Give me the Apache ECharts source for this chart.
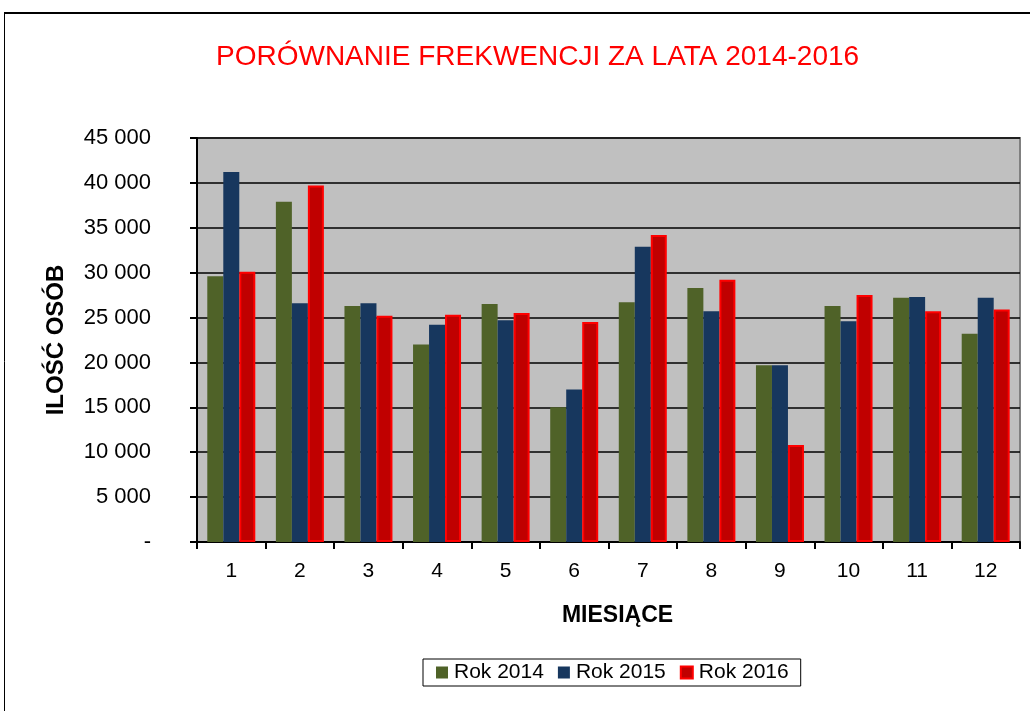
<!DOCTYPE html>
<html><head><meta charset="utf-8">
<script src="https://cdn.jsdelivr.net/npm/echarts@6/dist/echarts.min.js"></script>
<style>html,body{margin:0;padding:0;background:#fff}#c{width:1030px;height:711px}</style>
</head><body><div id="c"></div>
<script>
const months = ['1','2','3','4','5','6','7','8','9','10','11','12'];
const rok2014 = [29600, 37900, 26300, 22000, 26500, 15000, 26700, 28300, 19700, 26300, 27200, 23200];
const rok2015 = [41200, 26600, 26600, 24200, 24700, 17000, 32900, 25700, 19700, 24600, 27300, 27200];
const rok2016 = [30100, 39700, 25200, 25300, 25500, 24500, 34200, 29200, 10800, 27500, 25700, 25900];
const seriesNames = ['Rok 2014', 'Rok 2015', 'Rok 2016'];

function fmt(v){ if(v===0) return '-'; return String(v).replace(/\B(?=(\d{3})+(?!\d))/g,' '); }

const chart = echarts.init(document.getElementById('c'));
const F = 'Arial, "Liberation Sans", sans-serif';
chart.setOption({
  animation:false,
  backgroundColor:'#fff',
  textStyle:{fontFamily:F},
  title:{text:'PORÓWNANIE FREKWENCJI ZA LATA 2014-2016', left:216, top:43, padding:0,
    textStyle:{color:'#FF0000', fontSize:28, fontWeight:'normal', fontFamily:F}},
  graphic:[
    {type:'line', shape:{x1:4,y1:13,x2:1030,y2:13}, style:{stroke:'#000',lineWidth:2}},
    {type:'line', shape:{x1:4.5,y1:12,x2:4.5,y2:711}, style:{stroke:'#000',lineWidth:1}}
  ],
  legend:{data:seriesNames, left:423, top:659, itemWidth:12, itemHeight:12, icon:'rect',
    itemGap:14, padding:[3,12,3,13], borderColor:'#000', borderWidth:1, backgroundColor:'#fff',
    textStyle:{fontSize:21, color:'#000', fontFamily:F, padding:[0,0,0,1]}},
  grid:{left:197, top:138, right:10, bottom:169, show:true, backgroundColor:'#C0C0C0', borderColor:'#808080', borderWidth:2},
  xAxis:{type:'category', data:months, name:'MIESIĄCE', nameLocation:'middle', nameGap:62,
    nameTextStyle:{fontSize:23, fontWeight:'bold', color:'#000', padding:[0,0,0,18]},
    axisLine:{lineStyle:{color:'#000',width:2}},
    axisTick:{show:true, length:7, lineStyle:{color:'#000',width:2}},
    axisLabel:{fontSize:21, color:'#000', margin:19}},
  yAxis:{type:'value', min:0, max:45000, interval:5000, name:'ILOŚĆ OSÓB', nameLocation:'middle', nameGap:129,
    nameTextStyle:{fontSize:24, fontWeight:'bold', color:'#000'},
    axisLine:{show:true, lineStyle:{color:'#000',width:2}},
    axisTick:{show:true, length:7, lineStyle:{color:'#000',width:2}},
    splitLine:{lineStyle:{color:'#000',width:1.5}},
    axisLabel:{fontSize:22, color:'#000', margin:46, formatter:fmt}},
  series:[
    {name:seriesNames[0], type:'bar', data:rok2014, barWidth:16, barGap:'0%', itemStyle:{color:'#4F6228'}},
    {name:seriesNames[1], type:'bar', data:rok2015, barWidth:16, barGap:'0%', itemStyle:{color:'#17375E'}},
    {name:seriesNames[2], type:'bar', data:rok2016, barWidth:16, barGap:'0%', itemStyle:{color:'#C00000', borderColor:'#FF0000', borderWidth:2}}
  ]
});
</script></body></html>
